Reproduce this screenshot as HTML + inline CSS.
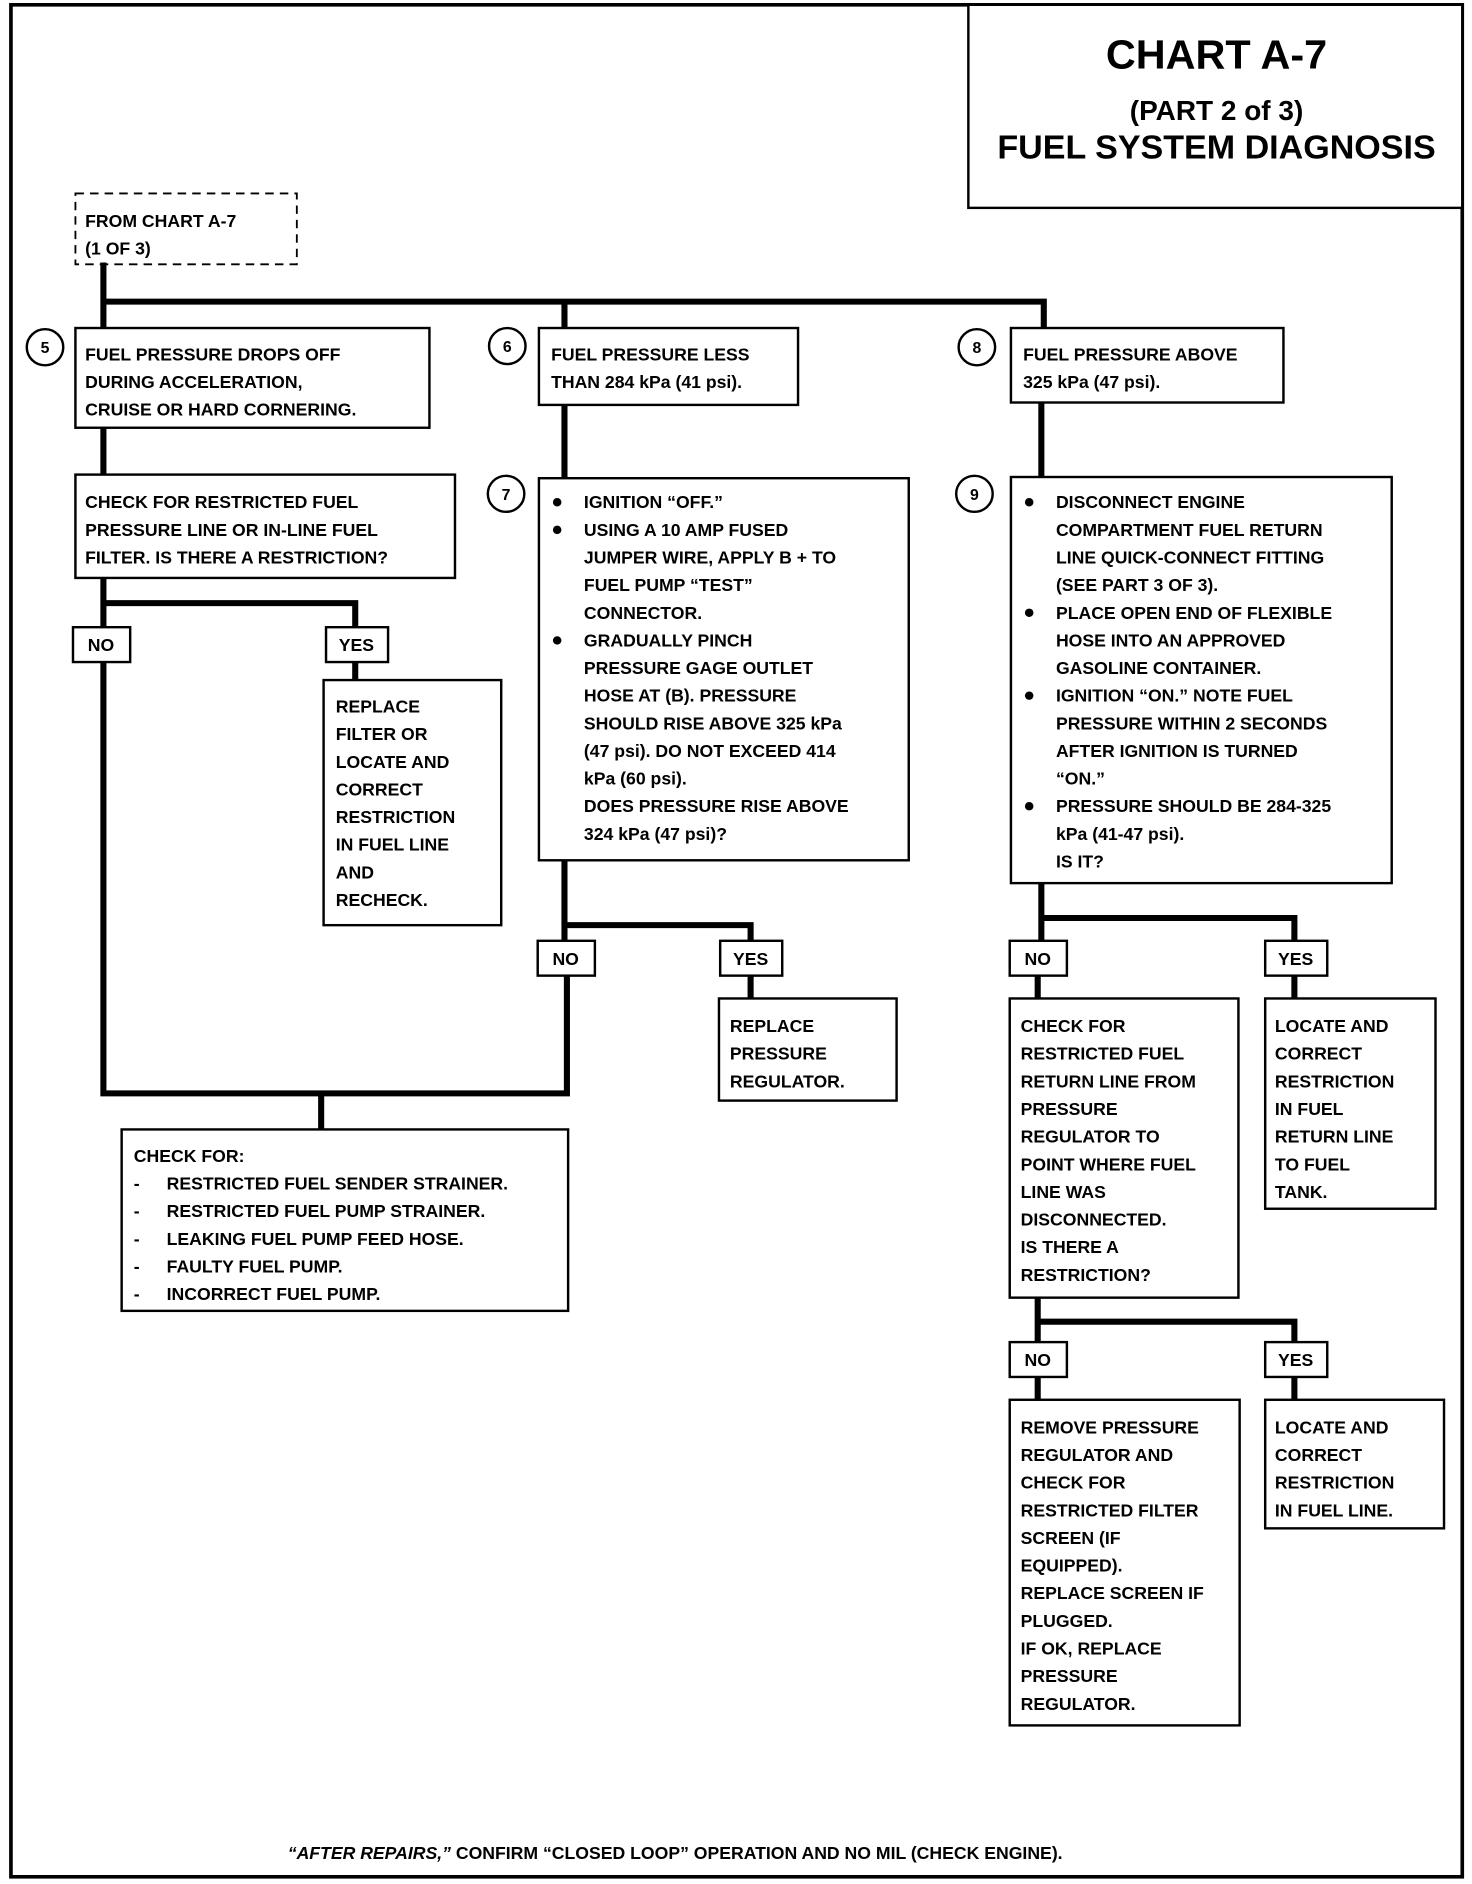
<!DOCTYPE html>
<html><head><meta charset="utf-8"><style>
html,body{margin:0;padding:0;background:#fff;}
svg{display:block;}
text{font-family:"Liberation Sans",Arial,sans-serif;font-weight:bold;font-size:14.5px;fill:#000;}
</style></head><body>
<svg width="1472" height="1884" viewBox="0 0 1210 1568" preserveAspectRatio="none" xmlns="http://www.w3.org/2000/svg">
<rect x="0" y="0" width="1210" height="1568" fill="#fff"/>
<!-- outer border -->
<rect x="9" y="4" width="1193" height="1558" fill="none" stroke="#000" stroke-width="3"/>
<!-- title -->
<rect x="796" y="4" width="406" height="169" fill="#fff" stroke="#000" stroke-width="2"/>
<text x="1000" y="57" text-anchor="middle" style="font-size:34px">CHART A-7</text>
<text x="1000" y="100" text-anchor="middle" style="font-size:23px">(PART 2 of 3)</text>
<text x="1000" y="132" text-anchor="middle" style="font-size:28px">FUEL SYSTEM DIAGNOSIS</text>
<!-- from box -->
<rect x="62" y="161" width="182" height="59" fill="none" stroke="#000" stroke-width="1.5" stroke-dasharray="7,5"/>
<text x="70" y="189">FROM CHART A-7</text>
<text x="70" y="212">(1 OF 3)</text>

<g stroke="#000" stroke-width="5" fill="none" stroke-linecap="square">
<path d="M85 221 V273 M85 251 H858 M464 251 V273 M858 251 V273"/>
<path d="M85 356 V395 M85 481 V910 H466 V812 M85 502 H292 V522 M292 551 V566 M264 910 V940"/>
<path d="M464 337 V398 M464 716 V783 M464 770 H617 V783 M617 812 V831"/>
<path d="M856 335 V397 M856 735 V783 M856 764 H1064 V783 M853 812 V831 M1064 812 V831 M853 1080 V1117 M853 1100 H1064 V1117 M853 1146 V1165 M1064 1146 V1165"/>
</g>

<g fill="#fff" stroke="#000" stroke-width="2">
<rect x="62" y="273" width="291" height="83"/>
<rect x="62" y="395" width="312" height="86"/>
<rect x="60" y="522" width="47" height="29"/>
<rect x="268" y="522" width="51" height="29"/>
<rect x="266" y="566" width="146" height="204"/>
<rect x="100" y="940" width="367" height="151"/>
<rect x="443" y="273" width="213" height="64"/>
<rect x="443" y="398" width="304" height="318"/>
<rect x="442" y="783" width="47" height="29"/>
<rect x="592" y="783" width="51" height="29"/>
<rect x="591" y="831" width="146" height="85"/>
<rect x="831" y="273" width="224" height="62"/>
<rect x="831" y="397" width="313" height="338"/>
<rect x="830" y="783" width="47" height="29"/>
<rect x="1040" y="783" width="51" height="29"/>
<rect x="830" y="831" width="188" height="249"/>
<rect x="1040" y="831" width="140" height="175"/>
<rect x="830" y="1117" width="47" height="29"/>
<rect x="1040" y="1117" width="51" height="29"/>
<rect x="830" y="1165" width="189" height="271"/>
<rect x="1040" y="1165" width="147" height="107"/>
<circle cx="37" cy="289" r="15"/>
<circle cx="417" cy="288" r="15"/>
<circle cx="416" cy="411" r="15"/>
<circle cx="803" cy="289" r="15"/>
<circle cx="801" cy="411" r="15"/>
</g>
<text x="37" y="294" text-anchor="middle" style="font-size:13px">5</text>
<text x="417" y="293" text-anchor="middle" style="font-size:13px">6</text>
<text x="416" y="416" text-anchor="middle" style="font-size:13px">7</text>
<text x="803" y="294" text-anchor="middle" style="font-size:13px">8</text>
<text x="801" y="416" text-anchor="middle" style="font-size:13px">9</text>

<!-- NO/YES labels -->
<text x="83" y="542" text-anchor="middle">NO</text>
<text x="293" y="542" text-anchor="middle">YES</text>
<text x="465" y="803" text-anchor="middle">NO</text>
<text x="617" y="803" text-anchor="middle">YES</text>
<text x="853" y="803" text-anchor="middle">NO</text>
<text x="1065" y="803" text-anchor="middle">YES</text>
<text x="853" y="1137" text-anchor="middle">NO</text>
<text x="1065" y="1137" text-anchor="middle">YES</text>

<!-- column 1 -->
<text x="70" y="300">FUEL PRESSURE DROPS OFF</text>
<text x="70" y="323">DURING ACCELERATION,</text>
<text x="70" y="346">CRUISE OR HARD CORNERING.</text>
<text x="70" y="423">CHECK FOR RESTRICTED FUEL</text>
<text x="70" y="446">PRESSURE LINE OR IN-LINE FUEL</text>
<text x="70" y="469">FILTER.  IS THERE A RESTRICTION?</text>
<text x="276" y="593">REPLACE</text>
<text x="276" y="616">FILTER OR</text>
<text x="276" y="639">LOCATE AND</text>
<text x="276" y="662">CORRECT</text>
<text x="276" y="685">RESTRICTION</text>
<text x="276" y="708">IN FUEL LINE</text>
<text x="276" y="731">AND</text>
<text x="276" y="754">RECHECK.</text>
<text x="110" y="967">CHECK FOR:</text>
<text x="110" y="990">-</text><text x="137" y="990">RESTRICTED FUEL SENDER STRAINER.</text>
<text x="110" y="1013">-</text><text x="137" y="1013">RESTRICTED FUEL PUMP STRAINER.</text>
<text x="110" y="1036">-</text><text x="137" y="1036">LEAKING FUEL PUMP FEED HOSE.</text>
<text x="110" y="1059">-</text><text x="137" y="1059">FAULTY FUEL PUMP.</text>
<text x="110" y="1082">-</text><text x="137" y="1082">INCORRECT FUEL PUMP.</text>

<!-- column 2 -->
<text x="453" y="300">FUEL PRESSURE LESS</text>
<text x="453" y="323">THAN 284 kPa (41 psi).</text>
<g fill="#000"><circle cx="458" cy="418" r="3.5"/><circle cx="458" cy="441" r="3.5"/><circle cx="458" cy="533" r="3.5"/>
<circle cx="846" cy="418" r="3.5"/><circle cx="846" cy="510" r="3.5"/><circle cx="846" cy="579" r="3.5"/><circle cx="846" cy="671" r="3.5"/></g>
<text x="480" y="423">IGNITION “OFF.”</text>
<text x="480" y="446">USING A 10 AMP FUSED</text>
<text x="480" y="469">JUMPER WIRE, APPLY B +  TO</text>
<text x="480" y="492">FUEL PUMP “TEST”</text>
<text x="480" y="515">CONNECTOR.</text>
<text x="480" y="538">GRADUALLY PINCH</text>
<text x="480" y="561">PRESSURE GAGE OUTLET</text>
<text x="480" y="584">HOSE AT (B).  PRESSURE</text>
<text x="480" y="607">SHOULD RISE ABOVE 325 kPa</text>
<text x="480" y="630">(47 psi).  DO NOT EXCEED 414</text>
<text x="480" y="653">kPa (60 psi).</text>
<text x="480" y="676">DOES PRESSURE RISE ABOVE</text>
<text x="480" y="699">324 kPa (47 psi)?</text>
<text x="600" y="859">REPLACE</text>
<text x="600" y="882">PRESSURE</text>
<text x="600" y="905">REGULATOR.</text>

<!-- column 3 -->
<text x="841" y="300">FUEL PRESSURE ABOVE</text>
<text x="841" y="323">325 kPa (47 psi).</text>
<text x="868" y="423">DISCONNECT ENGINE</text>
<text x="868" y="446">COMPARTMENT FUEL RETURN</text>
<text x="868" y="469">LINE QUICK-CONNECT FITTING</text>
<text x="868" y="492">(SEE PART 3 OF 3).</text>
<text x="868" y="515">PLACE OPEN END OF FLEXIBLE</text>
<text x="868" y="538">HOSE INTO AN APPROVED</text>
<text x="868" y="561">GASOLINE CONTAINER.</text>
<text x="868" y="584">IGNITION “ON.”  NOTE FUEL</text>
<text x="868" y="607">PRESSURE WITHIN 2 SECONDS</text>
<text x="868" y="630">AFTER IGNITION IS TURNED</text>
<text x="868" y="653">“ON.”</text>
<text x="868" y="676">PRESSURE SHOULD BE 284-325</text>
<text x="868" y="699">kPa (41-47 psi).</text>
<text x="868" y="722">IS IT?</text>
<text x="839" y="859">CHECK FOR</text>
<text x="839" y="882">RESTRICTED FUEL</text>
<text x="839" y="905">RETURN LINE FROM</text>
<text x="839" y="928">PRESSURE</text>
<text x="839" y="951">REGULATOR TO</text>
<text x="839" y="974">POINT WHERE FUEL</text>
<text x="839" y="997">LINE WAS</text>
<text x="839" y="1020">DISCONNECTED.</text>
<text x="839" y="1043">IS THERE A</text>
<text x="839" y="1066">RESTRICTION?</text>
<text x="1048" y="859">LOCATE AND</text>
<text x="1048" y="882">CORRECT</text>
<text x="1048" y="905">RESTRICTION</text>
<text x="1048" y="928">IN FUEL</text>
<text x="1048" y="951">RETURN LINE</text>
<text x="1048" y="974">TO FUEL</text>
<text x="1048" y="997">TANK.</text>
<text x="839" y="1193">REMOVE PRESSURE</text>
<text x="839" y="1216">REGULATOR AND</text>
<text x="839" y="1239">CHECK FOR</text>
<text x="839" y="1262">RESTRICTED FILTER</text>
<text x="839" y="1285">SCREEN (IF</text>
<text x="839" y="1308">EQUIPPED).</text>
<text x="839" y="1331">REPLACE SCREEN IF</text>
<text x="839" y="1354">PLUGGED.</text>
<text x="839" y="1377">IF OK, REPLACE</text>
<text x="839" y="1400">PRESSURE</text>
<text x="839" y="1423">REGULATOR.</text>
<text x="1048" y="1193">LOCATE AND</text>
<text x="1048" y="1216">CORRECT</text>
<text x="1048" y="1239">RESTRICTION</text>
<text x="1048" y="1262">IN FUEL LINE.</text>

<text x="555" y="1547" text-anchor="middle"><tspan font-style="italic">“AFTER REPAIRS,”</tspan> CONFIRM “CLOSED LOOP” OPERATION AND NO MIL (CHECK ENGINE).</text>
</svg>
</body></html>
